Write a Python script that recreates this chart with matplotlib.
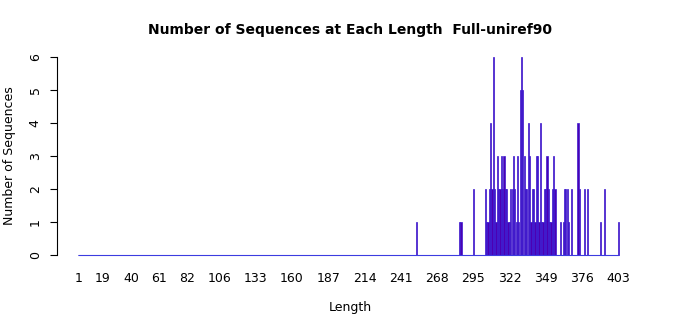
import numpy as np
import matplotlib
matplotlib.use("Agg")
import matplotlib.pyplot as plt

# lengths that have at least one sequence, and how many
lengths = [253, 285, 286, 295, 304, 305, 306, 307, 308, 309, 310, 311, 312,
           313, 314, 315, 316, 317, 318, 319, 320, 321, 322, 323, 324, 325,
           326, 327, 328, 329, 330, 331, 332, 333, 334, 335, 336, 337, 338,
           339, 340, 341, 342, 343, 344, 345, 346, 347, 348, 349, 350, 351,
           352, 353, 354, 355, 356, 360, 362, 363, 364, 365, 366, 368, 373,
           374, 378, 380, 390, 393, 403]
counts = [1, 1, 1, 2, 2, 1, 1, 2, 4, 2, 6, 2, 1,
          3, 2, 2, 3, 2, 3, 2, 2, 1, 1, 2, 2, 3,
          2, 1, 3, 1, 5, 6, 5, 3, 2, 2, 4, 3, 1,
          2, 2, 1, 3, 3, 1, 4, 1, 1, 2, 2, 3, 2,
          1, 1, 2, 3, 2, 1, 1, 2, 2, 2, 1, 2, 4,
          2, 2, 2, 1, 2, 1]
tick_labels = [1, 19, 40, 61, 82, 106, 133, 160, 187, 214, 241, 268, 295,
               322, 349, 376, 403]

# every length from 1 to 403, zero where nothing was seen
all_len = np.arange(1, 404)
all_cnt = np.zeros(len(all_len))
for l, c in zip(lengths, counts):
    all_cnt[l - 1] = c

fig = plt.figure(figsize=(7, 3.15), dpi=100)
ax = fig.add_axes([57/700, 1 - 255/315, 584/700, 198/315])

ax.bar(all_len, all_cnt, width=0.9, color='#4b00b4', edgecolor='#3a1ad0',
       linewidth=0.5, clip_on=False)
# zero-height bars show up as one line along the bottom
ax.hlines(0, all_len[0] - 0.5, all_len[-1] + 0.5, color='#3c3ce0',
          linewidth=0.8, clip_on=False)

ax.set_xlim(-15, 420)
ax.set_ylim(0, 6)
ax.set_xticks(tick_labels)
ax.set_xticklabels([str(t) for t in tick_labels])
ax.set_yticks(range(7))
ax.tick_params(axis='x', length=0, pad=12, labelsize=9)
ax.tick_params(axis='y', length=5, width=0.8, pad=6, labelsize=9, labelrotation=90)
for lab in ax.get_yticklabels():
    lab.set_va('center')

for s in ['top', 'right', 'bottom']:
    ax.spines[s].set_visible(False)
ax.spines['left'].set_linewidth(0.8)

fig.text(350/700, 1 - 30/315, 'Number of Sequences at Each Length  Full-uniref90',
         ha='center', va='center', fontsize=10, fontweight='bold')
fig.text(350/700, 1 - 307/315, 'Length', ha='center', va='center', fontsize=9)
fig.text(10/700, 1 - 156/315, 'Number of Sequences', ha='center', va='center',
         rotation=90, fontsize=9)

fig.savefig('out.png', dpi=100)
